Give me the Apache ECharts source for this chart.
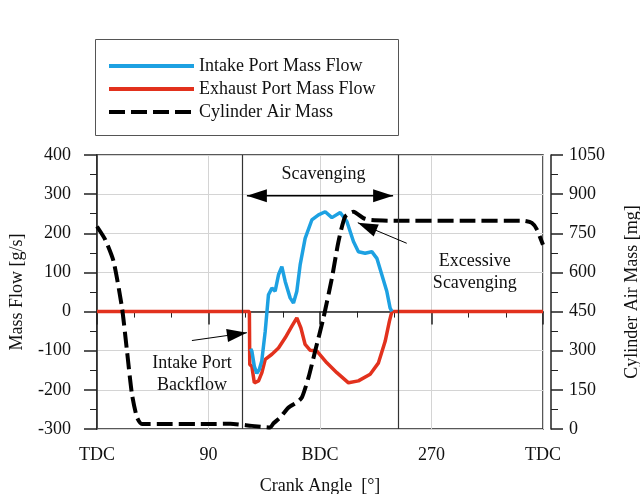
<!DOCTYPE html>
<html>
<head>
<meta charset="utf-8">
<script src="https://cdn.jsdelivr.net/npm/echarts@6/dist/echarts.min.js"></script>
<style>
  html, body { margin: 0; background: #fff; }
  #main { width: 640px; height: 494px; }
</style>
</head>
<body>
<div id="main"></div>
<script>
// [crank angle deg, mass flow g/s]
const intakeFlow = [
  [124, -95], [125, -101], [127, -140], [129, -158], [131, -148], [133, -126], [135.8, -50],
  [138.4, 43], [141.2, 60], [143.8, 52], [146.5, 94], [149.2, 115], [151.9, 77],
  [155.9, 35], [158.6, 22], [161.3, 52], [164, 120], [168, 187], [173.4, 234],
  [178.8, 247], [184.2, 255], [189.6, 240], [196.3, 253], [201.7, 230], [207, 179],
  [211, 153], [216.4, 149], [221.8, 153], [225.9, 136], [229.9, 94], [233.9, 52],
  [236.6, 9], [238, 0]
];
const exhaustFlow = [
  [0, 0], [123, 0], [123.3, -135], [125, -140], [127, -182], [130.4, -177], [133.1, -156],
  [135.8, -122], [141.2, -109], [146.5, -93], [151.9, -67], [157.3, -37], [161.3, -16],
  [164.6, -42], [168, -84], [172.1, -99], [177.5, -101], [185.5, -131], [193.6, -156],
  [203, -182], [211, -177], [220.5, -160], [227.2, -131], [232.6, -76], [236, -25],
  [238, 0], [360, 0]
];
// [crank angle deg, cylinder air mass mg]
const airMass = [
  [0, 776], [6.7, 725], [13.4, 642], [20.2, 464], [24.2, 299], [28.2, 134], [32.3, 44],
  [36.3, 19], [60, 19], [90, 19], [107.5, 20], [125, 12], [139.8, 6], [142.5, 22],
  [147.9, 44], [154.6, 82], [161.3, 102], [165.4, 121], [170.7, 197], [176.1, 299],
  [182.8, 426], [189.6, 578], [194.9, 718], [200.3, 814], [207, 833], [215, 808],
  [220.5, 801], [240, 798], [300, 798], [344, 798], [351, 790], [355, 765], [360, 706]
];
const xTickValues = [0, 90, 180, 270, 360];
const xTickLabels = ['TDC', '90', 'BDC', '270', 'TDC'];
const scavengingBounds = [117, 243];

const FONT = '"Liberation Serif", "Times New Roman", serif';
const TXT = { fontFamily: FONT, fontSize: 18, color: '#111' };

const chart = echarts.init(document.getElementById('main'));

chart.setOption({
  animation: false,
  textStyle: { fontFamily: FONT },
  grid: {
    left: 97, right: 97, top: 155, height: 274,
    containLabel: false, outerBoundsMode: 'none',
    show: true, borderColor: '#222', borderWidth: 1.5
  },
  legend: {
    orient: 'vertical',
    left: 107, top: 56, padding: 0,
    itemWidth: 85, itemHeight: 12, itemGap: 3,
    itemStyle: { opacity: 0 },
    lineStyle: { width: 4 },
    textStyle: Object.assign({}, TXT, { lineHeight: 20 }),
    data: ['Intake Port Mass Flow', 'Exhaust Port Mass Flow', 'Cylinder Air Mass']
  },
  xAxis: {
    type: 'value', min: 0, max: 360, interval: 90,
    name: 'Crank Angle  [°]', nameLocation: 'middle', nameGap: 48,
    nameTextStyle: TXT,
    axisLine: { show: true, lineStyle: { color: '#222', width: 1.5 } },
    axisTick: { show: true, inside: false, length: 13, lineStyle: { color: '#222', width: 1.5 } },
    minorTick: { show: true, splitNumber: 3, length: 6, lineStyle: { color: '#222', width: 1 } },
    axisLabel: Object.assign({}, TXT, {
      margin: 17,
      formatter: v => {
        const i = xTickValues.indexOf(v);
        return i >= 0 ? xTickLabels[i] : '';
      }
    }),
    splitLine: { show: true, lineStyle: { color: '#d4d4d4', width: 1 } }
  },
  yAxis: [
    {
      type: 'value', min: -300, max: 400, interval: 100, offset: 8,
      name: 'Mass Flow [g/s]', nameLocation: 'middle', nameGap: 63, nameRotate: 90,
      nameTextStyle: TXT,
      axisLine: { show: true, lineStyle: { color: '#222', width: 1.5 } },
      axisTick: { show: true, inside: false, length: 13, lineStyle: { color: '#222', width: 1.5 } },
      minorTick: { show: true, splitNumber: 2, length: 7, lineStyle: { color: '#222', width: 1 } },
      axisLabel: Object.assign({}, TXT, { margin: 18 }),
      splitLine: { show: true, lineStyle: { color: '#d4d4d4', width: 1 } }
    },
    {
      type: 'value', min: 0, max: 1050, interval: 150, offset: 8, position: 'right',
      name: 'Cylinder Air Mass [mg]', nameLocation: 'middle', nameGap: 72, nameRotate: 90,
      nameTextStyle: TXT,
      axisLine: { show: true, lineStyle: { color: '#222', width: 1.5 } },
      axisTick: { show: true, inside: false, length: 12, lineStyle: { color: '#222', width: 1.5 } },
      minorTick: { show: true, splitNumber: 2, length: 7, lineStyle: { color: '#222', width: 1 } },
      axisLabel: Object.assign({}, TXT, { margin: 18, formatter: v => String(v) }),
      splitLine: { show: false }
    }
  ],
  series: [
    {
      name: 'Exhaust Port Mass Flow', type: 'line', data: exhaustFlow,
      symbol: 'none', color: '#e2311d',
      lineStyle: { width: 3.5, color: '#e2311d' },
      markLine: {
        silent: true, symbol: 'none', label: { show: false },
        lineStyle: { color: '#333', width: 1.2, type: 'solid' },
        data: scavengingBounds.map(v => ({ xAxis: v }))
      }
    },
    {
      name: 'Intake Port Mass Flow', type: 'line', data: intakeFlow,
      symbol: 'none', color: '#1da1e2',
      lineStyle: { width: 3.5, color: '#1da1e2' }
    },
    {
      name: 'Cylinder Air Mass', type: 'line', yAxisIndex: 1, data: airMass,
      symbol: 'none', color: '#000', smooth: 0.2,
      lineStyle: { width: 4, color: '#000', type: [16, 6] }
    }
  ]
});

// annotations placed in data coordinates (crank angle, mass flow)
const px = p => chart.convertToPixel({ xAxisIndex: 0, yAxisIndex: 0 }, p);

function head(tip, from, len, half) {
  const dx = tip[0] - from[0], dy = tip[1] - from[1];
  const d = Math.hypot(dx, dy), ux = dx / d, uy = dy / d;
  const bx = tip[0] - ux * len, by = tip[1] - uy * len;
  return {
    type: 'polygon', z: 50,
    shape: { points: [tip, [bx - uy * half, by + ux * half], [bx + uy * half, by - ux * half]] },
    style: { fill: '#000' }
  };
}
function arrow(a, b, both, width) {
  const p1 = px(a), p2 = px(b);
  const els = [{
    type: 'line', z: 50,
    shape: { x1: p1[0], y1: p1[1], x2: p2[0], y2: p2[1] },
    style: { stroke: '#000', lineWidth: width }
  }, head(p2, p1, 20, 6.5)];
  if (both) els.push(head(p1, p2, 20, 6.5));
  return els;
}
function label(text, at) {
  const p = px(at);
  return {
    type: 'text', z: 50, x: p[0], y: p[1],
    style: { text: text, align: 'center', verticalAlign: 'middle', lineHeight: 22,
      font: '18px ' + FONT, fill: '#111' }
  };
}

chart.setOption({
  graphic: [
    { type: 'rect', z: 40, shape: { x: 95.5, y: 39.5, width: 303, height: 96 },
      style: { fill: 'none', stroke: '#555', lineWidth: 1 } },
    ...arrow([121, 296], [239, 296], true, 1.5),
    ...arrow([250, 174.5], [210.5, 227], false, 1),
    ...arrow([76.6, -74], [121, -54], false, 1),
    label('Scavenging', [182.8, 352]),
    label('Excessive\nScavenging', [305, 101.5]),
    label('Intake Port\nBackflow', [76.6, -160])
  ]
});
</script>
</body>
</html>
